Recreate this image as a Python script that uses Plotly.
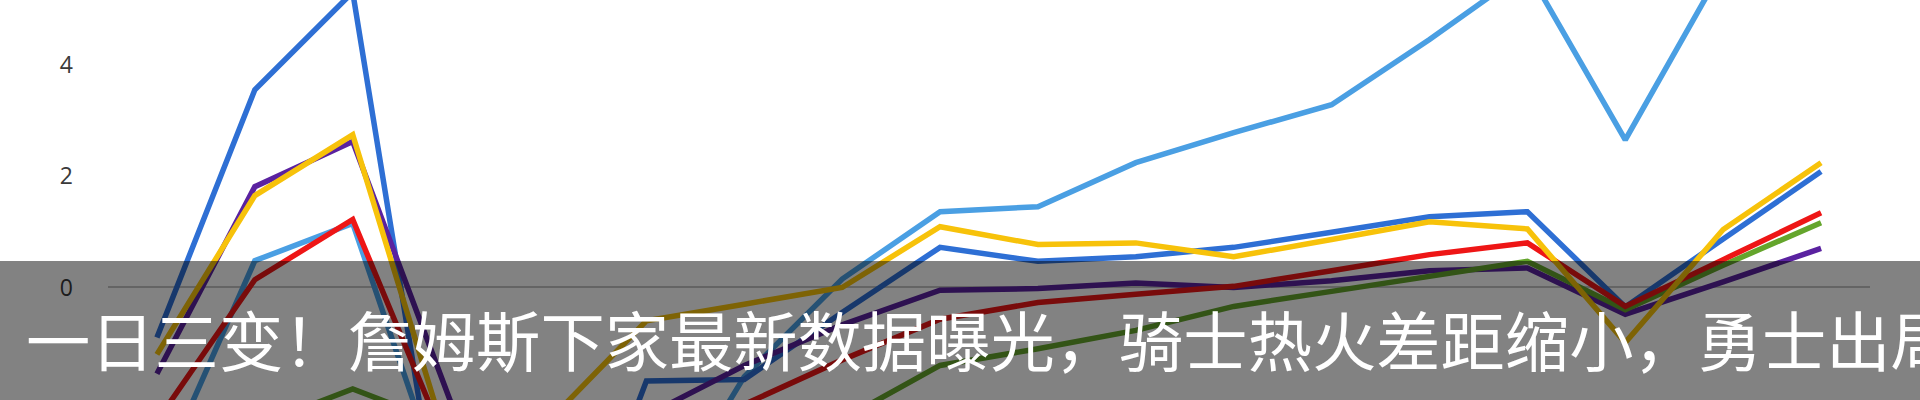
import plotly.graph_objects as go

categories = [f"G{i}" for i in range(1, 19)]

light_blue = [-3.5, 0.48, 1.15, -4.0, -5.0, -4.5, -1.6, 0.15, 1.36, 1.45, 2.24, 2.78, 3.28, 4.45, 5.7, 2.65, 5.75, 6.3]
mid_blue = [-0.9, 3.55, 5.3, -5.5, -6.3, -1.68, -1.65, -0.45, 0.72, 0.47, 0.55, 0.72, 0.99, 1.27, 1.36, -0.35, 0.87, 2.08]
purple = [-1.55, 1.81, 2.62, -2.05, -2.9, -2.3, -1.4, -0.67, -0.05, -0.02, 0.08, 0.0, 0.12, 0.3, 0.35, -0.48, 0.1, 0.7]
green = [-2.9, -2.5, -1.82, -2.5, -3.0, -2.9, -2.7, -2.37, -1.4, -1.1, -0.77, -0.34, -0.07, 0.2, 0.47, -0.4, 0.4, 1.16]
red = [-2.4, 0.14, 1.22, -3.0, -4.0, -3.5, -2.1, -1.3, -0.57, -0.27, -0.12, 0.02, 0.3, 0.59, 0.8, -0.34, 0.5, 1.34]
yellow = [-1.2, 1.65, 2.74, -3.0, -2.4, -0.6, -0.3, 0.0, 1.09, 0.77, 0.8, 0.55, 0.86, 1.18, 1.05, -0.99, 1.04, 2.24]

y_ticks = [-2, 0, 2, 4]
banner_text = "一日三变！詹姆斯下家最新数据曝光，骑士热火差距缩小，勇士出局"

series = [
    ("light_blue", light_blue, "#4a9fe3"),
    ("mid_blue", mid_blue, "#2e6fd4"),
    ("purple", purple, "#5a22a0"),
    ("green", green, "#64a52c"),
    ("red", red, "#ee1616"),
    ("yellow", yellow, "#f7c20a"),
]

W, H = 1920, 400
ML, MR = 108, 50
PW = W - ML - MR

fig = go.Figure()
for name, vals, col in series:
    fig.add_trace(go.Scatter(x=categories, y=vals, mode="lines", name=name,
                             line=dict(color=col, width=5.5), showlegend=False))

fig.update_layout(
    width=W, height=H,
    margin=dict(l=ML, r=MR, t=0, b=0),
    plot_bgcolor="white", paper_bgcolor="white",
    xaxis=dict(showticklabels=False, showgrid=False, zeroline=False, showline=False,
               range=[-0.5, 17.5]),
    yaxis=dict(range=[-2.02, 5.16], tickvals=y_ticks, showgrid=False,
               zeroline=True, zerolinecolor="#c4c4c4", zerolinewidth=1.5,
               showline=False, ticks="", ticklabelstandoff=34,
               tickfont=dict(family="Open Sans", size=23, color="#3a3a3a")),
)

# semi-transparent banner over the bottom of the chart
top_px = 261
fig.add_shape(type="rect", xref="paper", yref="paper",
              x0=-ML / PW, x1=(W - ML) / PW, y0=0, y1=1 - top_px / H,
              fillcolor="rgba(0,0,0,0.49)", line=dict(width=0), layer="above")

fig.add_annotation(text=banner_text, xref="paper", yref="paper",
                   x=(24 - ML) / PW, y=1 - 338 / H, xanchor="left", yanchor="middle",
                   showarrow=False,
                   font=dict(family="Noto Sans CJK SC", size=64.3, color="white"))

fig.write_html("out.html", config={"displayModeBar": False},
               post_script="document.body.style.margin='0px';document.body.style.overflow='hidden';")
